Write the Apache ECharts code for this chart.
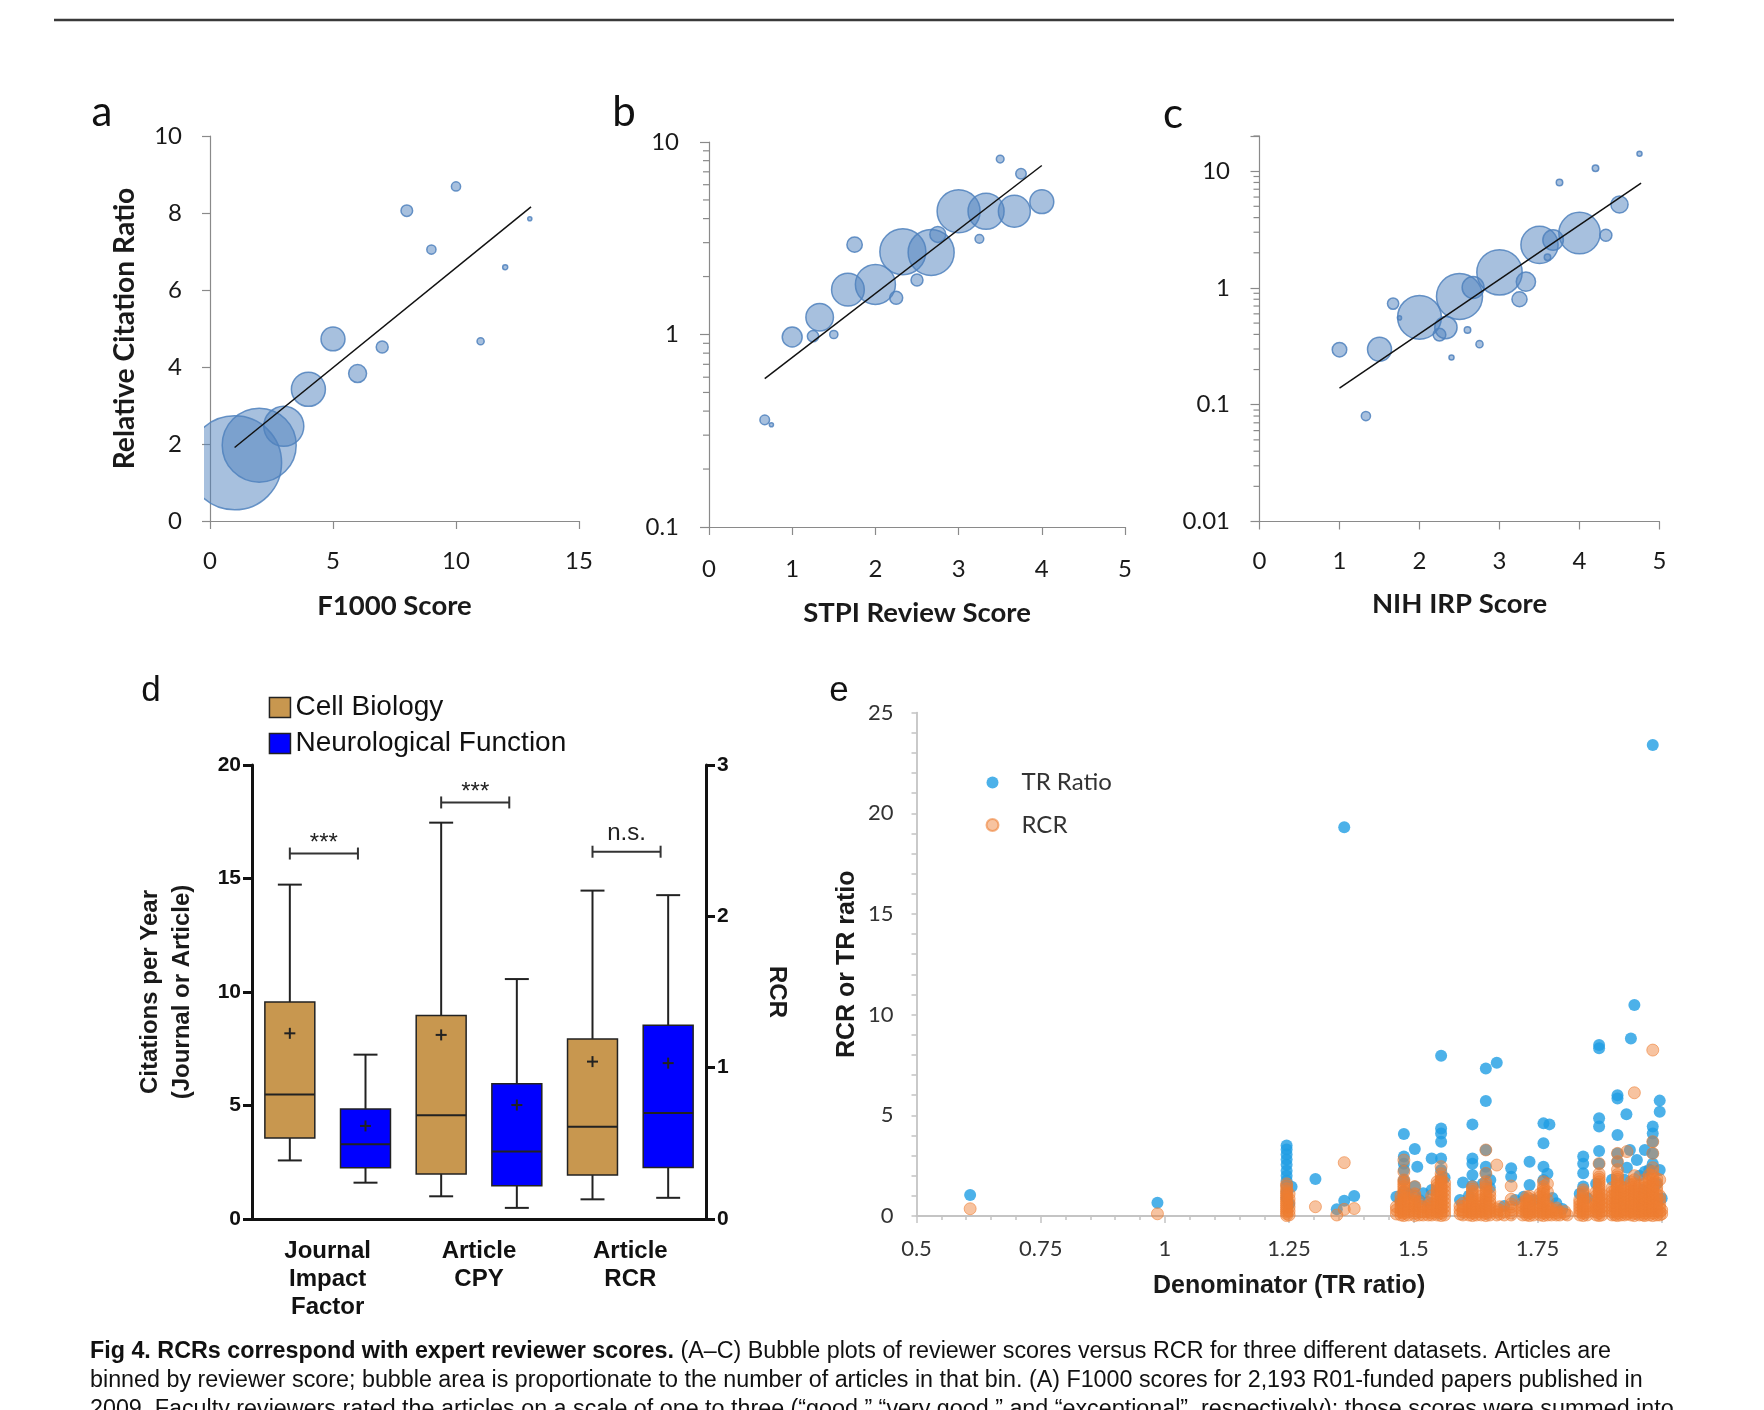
<!DOCTYPE html>
<html>
<head>
<meta charset="utf-8">
<title>Fig 4 - RCRs correspond with expert reviewer scores</title>
<script src="https://cdn.jsdelivr.net/npm/echarts@6/dist/echarts.min.js"></script>
<style>
  html, body { margin: 0; padding: 0; background: #fff; }
  #chart { width: 1764px; height: 1410px; }
</style>
</head>
<body>
<div id="chart"></div>
<script>
// ---------- data ----------
// (a) F1000 score bins: score, RCR, number of articles (bubble area)
const aScore = [1, 2, 3, 4, 5, 6, 7, 8, 9, 10, 11, 12, 13]
const aRcr = [1.51, 1.97, 2.46, 3.42, 4.73, 3.83, 4.52, 8.06, 7.05, 8.69, 4.67, 6.59, 7.85]
const aCount = [1047, 649, 190, 137, 68, 38, 17, 16, 10, 10, 6, 3, 2]
const aTrend = [[1, 1.91], [13.05, 8.16]]

// (b) STPI review score bins
const bScore = [0.67, 0.75, 1, 1.25, 1.33, 1.5, 1.67, 1.75, 2, 2.25, 2.33, 2.5, 2.67, 2.75, 3, 3.25, 3.33, 3.5, 3.67, 3.75, 4]
const bRcr = [0.36, 0.34, 0.97, 0.98, 1.23, 1.0, 1.71, 2.93, 1.82, 1.55, 2.69, 1.92, 2.67, 3.31, 4.37, 3.14, 4.37, 8.15, 4.37, 6.84, 4.9]
const bCount = [11, 2, 47, 15, 90, 8, 127, 28, 190, 20, 251, 17, 251, 30, 219, 9, 154, 7, 121, 13, 68]
const bTrend = [[0.67, 0.59], [4.0, 7.55]]
const bMinorTicks = [0.2, 0.3, 0.4, 0.5, 0.6, 0.7, 0.8, 0.9, 2, 3, 4, 5, 6, 7, 8, 9]

// (c) NIH IRP score bins
const cScore = [1, 1.33, 1.5, 1.67, 1.75, 2, 2.33, 2.25, 2.5, 2.67, 2.6, 2.4, 2.75, 3, 3.33, 3.25, 3.5, 3.6, 3.67, 3.75, 4, 4.2, 4.33, 4.5, 4.75]
const cRcr = [0.296, 0.080, 0.298, 0.734, 0.554, 0.56, 0.458, 0.398, 0.845, 1.01, 0.436, 0.254, 0.33, 1.36, 1.13, 0.8, 2.34, 1.83, 2.57, 8.01, 2.95, 10.6, 2.83, 5.18, 14.1]
const cCount = [25, 10, 68, 15, 2, 227, 59, 19, 251, 57, 5, 3, 6, 244, 44, 27, 164, 5, 50, 5, 203, 5, 17, 35, 3]
const cTrend = [[1.0, 0.139], [4.77, 7.9]]
const cMinorTicks = [0.02, 0.03, 0.04, 0.05, 0.06, 0.07, 0.08, 0.09, 0.2, 0.3, 0.4, 0.5, 0.6, 0.7, 0.8, 0.9, 2, 3, 4, 5, 6, 7, 8, 9, 20]

// (d) box plots: [low whisker, Q1, median, Q3, high whisker, mean]
const dCats = ['JIF-CB', 'JIF-NF', 'CPY-CB', 'CPY-NF', 'RCR-CB', 'RCR-NF']
const dGroups = ['Journal\nImpact\nFactor', 'Article\nCPY', 'Article\nRCR']
const cellJif = [2.58, 3.57, 5.49, 9.56, 14.73, 8.18]
const neuroJif = [1.6, 2.26, 3.29, 4.85, 7.24, 4.1]
const cellCpy = [1.0, 1.98, 4.57, 8.97, 17.46, 8.11]
const neuroCpy = [0.49, 1.47, 2.97, 5.96, 10.57, 5.02]
const cellRcr = [0.13, 0.29, 0.61, 1.19, 2.17, 1.04]
const neuroRcr = [0.14, 0.34, 0.70, 1.28, 2.14, 1.03]
const sigPairs = [[0, 1], [2, 3], [4, 5]]
const sigLevel = [16.1, 18.35, 16.18]
const sigText = ['***', '***', 'n.s.']

// (e) denominator (TR ratio) vs value
const trRatio = [
  [0.608, 1.04], [0.985, 0.66],
  [1.245, 3.5], [1.245, 3.3], [1.245, 3.05], [1.245, 2.8], [1.245, 2.55], [1.245, 2.25], [1.245, 2.0],
  [1.245, 1.75], [1.245, 1.5], [1.255, 1.45], [1.245, 1.2], [1.245, 0.9], [1.25, 0.6],
  [1.303, 1.84], [1.346, 0.33], [1.361, 0.76], [1.381, 0.99], [1.361, 19.31],
  [1.466, 0.96], [1.481, 4.07], [1.481, 2.95], [1.481, 2.6], [1.481, 2.28], [1.481, 1.79], [1.481, 1.2],
  [1.49, 1.1], [1.475, 0.7],
  [1.503, 3.33], [1.508, 2.45], [1.503, 1.46], [1.503, 1.0], [1.52, 1.13], [1.512, 0.8],
  [1.537, 2.86], [1.537, 1.29], [1.53, 0.7],
  [1.556, 7.96], [1.556, 4.35], [1.556, 4.1], [1.556, 3.69], [1.556, 2.86], [1.556, 2.28], [1.556, 1.8], [1.563, 1.9],
  [1.6, 1.66], [1.594, 0.8],
  [1.619, 4.55], [1.619, 2.86], [1.619, 2.6], [1.619, 2.04], [1.619, 1.5], [1.612, 1.0],
  [1.646, 7.33], [1.646, 5.71], [1.646, 3.28], [1.646, 2.45], [1.646, 2.12], [1.64, 1.6], [1.654, 1.4],
  [1.668, 7.61], [1.655, 1.79], [1.683, 0.5],
  [1.697, 2.37], [1.697, 1.95], [1.705, 0.8],
  [1.734, 2.7], [1.734, 1.54], [1.722, 0.96], [1.742, 0.8],
  [1.762, 4.6], [1.774, 4.55], [1.762, 3.61], [1.762, 2.45], [1.762, 1.79], [1.77, 2.1],
  [1.788, 0.63], [1.78, 0.9], [1.8, 0.35],
  [1.842, 2.95], [1.842, 2.6], [1.842, 2.12], [1.842, 1.46], [1.835, 1.1], [1.85, 0.9],
  [1.874, 8.49], [1.874, 8.33], [1.874, 4.85], [1.874, 4.44], [1.874, 3.23], [1.874, 2.6], [1.868, 1.6],
  [1.911, 6.0], [1.911, 5.84], [1.911, 4.02], [1.911, 3.11], [1.911, 2.7], [1.9, 1.8],
  [1.929, 5.05], [1.936, 3.28], [1.93, 2.4], [1.925, 1.8],
  [1.945, 10.48], [1.938, 8.82], [1.95, 2.78], [1.955, 2.0],
  [1.966, 3.28], [1.966, 2.2], [1.962, 1.3],
  [1.982, 23.39], [1.982, 4.44], [1.982, 4.1], [1.982, 3.69], [1.982, 3.11], [1.982, 2.6], [1.975, 2.3],
  [1.996, 5.73], [1.996, 5.18], [1.996, 2.28], [2.0, 0.88], [1.99, 1.6]
]
// RCR points, read column by column: [denominator, [values...]]
const rcrColumns = [
  [0.608, [0.36]], [0.985, [0.11]],
  [1.245, [0.02, 0.12, 0.22, 0.32, 0.42, 0.52, 0.62, 0.72, 0.82, 0.92, 1.02, 1.12, 1.22, 1.35, 1.5, 1.6]],
  [1.25, [0.05, 0.25, 0.45, 0.65, 0.85, 1.1]],
  [1.303, [0.46]], [1.346, [0.05]], [1.361, [0.33, 2.65]], [1.381, [0.37]],
  [1.466, [0.1, 0.3, 0.46]],
  [1.475, [0.05, 0.2, 0.35, 0.5, 0.65, 0.8, 1.0]],
  [1.481, [0.02, 0.14, 0.26, 0.38, 0.5, 0.62, 0.74, 0.86, 0.98, 1.1, 1.22, 1.34, 1.46, 1.58, 1.7, 1.79, 2.2, 2.78]],
  [1.49, [0.05, 0.2, 0.35, 0.5, 0.7, 0.9]],
  [1.503, [0.02, 0.14, 0.26, 0.38, 0.5, 0.62, 0.74, 0.86, 1.0, 1.1, 1.46]],
  [1.512, [0.05, 0.2, 0.35, 0.5, 0.7]],
  [1.52, [0.05, 0.2, 0.46]],
  [1.53, [0.05, 0.2, 0.35, 0.5]],
  [1.537, [0.05, 0.15, 0.3, 0.45, 0.6, 0.8, 1.0]],
  [1.548, [0.05, 0.2, 0.35, 0.5, 0.65, 0.8, 0.95, 1.1, 1.25, 1.4, 1.55, 1.7]],
  [1.556, [0.02, 0.14, 0.26, 0.38, 0.5, 0.62, 0.74, 0.86, 0.98, 1.1, 1.22, 1.34, 1.46, 1.58, 1.7, 1.82, 1.94, 2.1, 2.45]],
  [1.563, [0.05, 0.25, 0.45, 0.65, 0.85, 1.05, 1.25, 1.45, 1.65]],
  [1.594, [0.1, 0.3, 0.5]],
  [1.6, [0.05, 0.2, 0.3, 0.45, 0.63]],
  [1.612, [0.05, 0.2, 0.35, 0.5, 0.65, 0.8]],
  [1.619, [0.02, 0.14, 0.26, 0.38, 0.5, 0.62, 0.74, 0.86, 0.98, 1.1, 1.22, 1.34, 1.45]],
  [1.627, [0.05, 0.2, 0.35, 0.5]],
  [1.637, [0.05, 0.2, 0.35, 0.5, 0.65, 0.8, 1.0]],
  [1.646, [0.02, 0.14, 0.26, 0.38, 0.5, 0.62, 0.74, 0.86, 0.98, 1.1, 1.22, 1.34, 1.46, 1.58, 1.7, 2.12, 3.28]],
  [1.654, [0.05, 0.2, 0.35, 0.5, 0.65, 0.8, 1.0, 1.2]],
  [1.668, [0.05, 0.2, 0.35, 2.53]],
  [1.674, [0.1, 0.3, 0.46]],
  [1.683, [0.05, 0.2]],
  [1.697, [0.05, 0.15, 0.3, 0.45, 0.6, 0.83, 1.49]],
  [1.72, [0.05, 0.2, 0.35, 0.5, 0.65]],
  [1.728, [0.05, 0.2, 0.35, 0.5, 0.65, 0.8, 0.95]],
  [1.734, [0.02, 0.14, 0.26, 0.38, 0.5, 0.62, 0.74, 0.86, 0.98]],
  [1.742, [0.05, 0.2, 0.35, 0.5]],
  [1.755, [0.05, 0.2, 0.35, 0.5, 0.65, 0.8, 0.95, 1.1]],
  [1.762, [0.02, 0.14, 0.26, 0.38, 0.5, 0.62, 0.74, 0.86, 0.98, 1.1, 1.22, 1.34, 1.46, 1.7]],
  [1.77, [0.05, 0.2, 0.35, 0.5, 0.8, 1.2, 1.6]],
  [1.778, [0.05, 0.2, 0.35]],
  [1.788, [0.05, 0.15, 0.3, 0.4]],
  [1.795, [0.05, 0.2]],
  [1.805, [0.1, 0.22]],
  [1.81, [0.05]],
  [1.835, [0.05, 0.2, 0.35, 0.5, 0.65, 0.8]],
  [1.842, [0.02, 0.14, 0.26, 0.38, 0.5, 0.62, 0.74, 0.86, 0.98, 1.1, 1.2, 1.3]],
  [1.85, [0.05, 0.2, 0.35, 0.5, 0.65]],
  [1.868, [0.05, 0.2, 0.35, 0.5, 0.65, 0.8, 1.0, 1.2]],
  [1.874, [0.02, 0.14, 0.26, 0.38, 0.5, 0.62, 0.74, 0.86, 0.98, 1.1, 1.22, 1.34, 1.46, 1.58, 1.7, 1.82, 1.94, 2.1, 2.6]],
  [1.88, [0.05, 0.25, 0.45, 0.65, 0.85, 1.05]],
  [1.9, [0.05, 0.2, 0.35, 0.5, 0.65, 0.8, 1.0, 1.2, 1.4]],
  [1.906, [0.05, 0.25, 0.45, 0.65, 0.85, 1.05, 1.25]],
  [1.911, [0.02, 0.14, 0.26, 0.38, 0.5, 0.62, 0.74, 0.86, 0.98, 1.1, 1.22, 1.34, 1.46, 1.58, 1.7, 1.82, 1.94, 2.06, 2.3, 2.7, 3.11]],
  [1.918, [0.05, 0.25, 0.45, 0.65, 0.85, 1.05, 1.25, 1.45]],
  [1.925, [0.05, 0.2, 0.35, 0.5, 0.65, 0.8, 0.95, 1.1, 1.25, 1.4]],
  [1.93, [0.1, 0.3, 0.5, 3.2]],
  [1.938, [0.05, 0.2, 0.35, 0.5, 0.65, 0.8, 0.95, 1.1, 1.25, 1.4, 1.55, 1.7]],
  [1.945, [0.02, 0.14, 0.26, 0.38, 0.5, 0.62, 0.74, 0.86, 0.98, 1.1, 1.22, 1.34, 1.46, 1.6, 1.8, 2.0, 6.12]],
  [1.955, [0.05, 0.2, 0.35, 0.5, 0.65, 0.8, 0.95, 1.1, 1.25, 1.4, 1.5]],
  [1.962, [0.05, 0.25, 0.45, 0.65, 0.85]],
  [1.966, [0.02, 0.14, 0.26, 0.38, 0.5, 0.62, 0.74, 0.86, 0.98, 1.1, 1.22, 1.4, 1.6, 1.8]],
  [1.975, [0.05, 0.25, 0.45, 0.65, 0.85, 1.05, 1.25, 1.45, 1.65, 1.85, 2.05]],
  [1.982, [0.02, 0.14, 0.26, 0.38, 0.5, 0.62, 0.74, 0.86, 0.98, 1.1, 1.22, 1.34, 1.46, 1.6, 1.8, 2.0, 2.2, 2.4, 3.11, 3.69, 8.24]],
  [1.99, [0.05, 0.25, 0.45, 0.65, 0.85, 1.05, 1.25, 1.45, 1.65, 1.85]],
  [1.996, [0.05, 0.2, 0.4, 0.6, 0.8, 1.0, 1.8]],
  [2.0, [0.1, 0.3]]
]
const rcrE = rcrColumns.flatMap(([x, ys]) => ys.map(y => [x, y]))

// ---------- styles ----------
const FONT_CAL = "Lato, 'Open Sans', sans-serif"
const FONT_ARIAL = "'Liberation Sans', Arial, Helvetica, sans-serif"
const AXIS_GRAY = '#8a8a8a'
const E_GRAY = '#c4c4c4'
const BUBBLE_AREA = 2.11 // px^2 of bubble per article
const TAN = '#c8974f'
const BLUE = '#0000ff'
const DARK = '#222'

const chart = echarts.init(document.getElementById('chart'), null, { renderer: 'canvas' })

// bubble (area ~ count); the plot area reaches a few px left of the y axis
const renderBubble = (params, api) => {
  const p = api.coord([api.value(0), api.value(1)])
  const r = Math.sqrt(api.value(2) * BUBBLE_AREA)
  const cs = params.coordSys
  return {
    type: 'group',
    clipPath: { type: 'rect', shape: { x: cs.x - 6, y: cs.y - 40, width: cs.width + 46, height: cs.height + 40 } },
    children: [{
      type: 'circle',
      shape: { cx: p[0], cy: p[1], r },
      style: { fill: 'rgba(79,129,189,0.5)', stroke: 'rgba(79,129,189,0.85)', lineWidth: 1.5 }
    }]
  }
}

// short minor tick on the left of a log axis
const renderMinorTick = (params, api) => {
  const p = api.coord([0, api.value(1)])
  return {
    type: 'line',
    shape: { x1: p[0] - 6, y1: p[1], x2: p[0], y2: p[1] },
    style: { stroke: AXIS_GRAY, lineWidth: 1.2 }
  }
}

const renderBox = (params, api) => {
  const cat = api.value(0)
  const band = api.size([1, 0])[0]
  const bw = band * 0.66
  const cw = bw * 0.48
  const pt = i => api.coord([cat, api.value(i)])
  const x = pt(3)[0]
  const [yLow, yQ1, yMed, yQ3, yHigh, yMean] = [1, 2, 3, 4, 5, 6].map(i => pt(i)[1])
  const seg = (x1, y1, x2, y2, w) => ({ type: 'line', shape: { x1, y1, x2, y2 }, style: { stroke: DARK, lineWidth: w } })
  return {
    type: 'group',
    children: [
      seg(x, yHigh, x, yQ3, 2),
      seg(x, yQ1, x, yLow, 2),
      seg(x - cw / 2, yHigh, x + cw / 2, yHigh, 2),
      seg(x - cw / 2, yLow, x + cw / 2, yLow, 2),
      {
        type: 'rect',
        shape: { x: x - bw / 2, y: yQ3, width: bw, height: yQ1 - yQ3 },
        style: { fill: api.visual('color'), stroke: DARK, lineWidth: 1.5 }
      },
      seg(x - bw / 2, yMed, x + bw / 2, yMed, 2),
      seg(x - 5.5, yMean, x + 5.5, yMean, 2),
      seg(x, yMean - 5.5, x, yMean + 5.5, 2)
    ]
  }
}

const renderBracket = (params, api) => {
  const p = api.coord([api.value(0), api.value(2)])
  const band = api.size([1, 0])[0]
  const x1 = p[0]
  const x2 = p[0] + band * 0.9
  const y = p[1]
  const txt = sigText[params.dataIndex]
  const seg = (a, b, c, d) => ({ type: 'line', shape: { x1: a, y1: b, x2: c, y2: d }, style: { stroke: '#333', lineWidth: 2 } })
  return {
    type: 'group',
    children: [
      seg(x1, y, x2, y),
      seg(x1, y - 6, x1, y + 6),
      seg(x2, y - 6, x2, y + 6),
      {
        type: 'text',
        style: {
          text: txt, x: (x1 + x2) / 2, y: y - (txt === 'n.s.' ? 18 : 10),
          align: 'center', verticalAlign: 'middle',
          fontFamily: FONT_ARIAL, fontSize: 24, fill: '#222'
        }
      }
    ]
  }
}

// axes for the three bubble panels
const scoreAxis = (gridIndex, max, interval, name, nameGap, margin) => ({
  gridIndex, type: 'value', min: 0, max, interval,
  name, nameLocation: 'middle', nameGap,
  nameTextStyle: { fontFamily: FONT_CAL, fontWeight: 'bold', fontSize: 27.5, color: '#1a1a1a' },
  axisLine: { onZero: false, lineStyle: { color: AXIS_GRAY, width: 1.2 } },
  axisTick: { length: 8, lineStyle: { color: AXIS_GRAY, width: 1.2 } },
  axisLabel: { margin, fontFamily: FONT_CAL, fontSize: 24, color: '#1a1a1a' },
  splitLine: { show: false }
})

const decadeLabel = v => {
  const lg = Math.log10(v)
  if (Math.abs(lg - Math.round(lg)) > 1e-6) return ''
  return String(+Number(v).toPrecision(6))
}

const logAxis = (gridIndex, min, max, margin) => ({
  gridIndex, type: 'log', logBase: 10, min, max,
  axisLine: { show: true, onZero: false, lineStyle: { color: AXIS_GRAY, width: 1.2 } },
  axisTick: { show: true, length: 9, lineStyle: { color: AXIS_GRAY, width: 1.2 } },
  axisLabel: { margin, fontFamily: FONT_CAL, fontSize: 24, color: '#1a1a1a', formatter: decadeLabel },
  splitLine: { show: false }
})

const dYAxis = (position, max, interval, name, nameGap, extra) => Object.assign({
  gridIndex: 3, type: 'value', position, min: 0, max, interval,
  name, nameLocation: 'middle', nameGap,
  nameTextStyle: { fontFamily: FONT_ARIAL, fontWeight: 'bold', fontSize: 24, color: '#1a1a1a', lineHeight: 31.5 },
  axisLine: { show: true, onZero: false, lineStyle: { color: '#111', width: 3 } },
  axisTick: { show: true, length: 9, lineStyle: { color: '#111', width: 3 } },
  axisLabel: { margin: 11, fontFamily: FONT_ARIAL, fontWeight: 'bold', fontSize: 21, color: '#111' },
  splitLine: { show: false }
}, extra || {})

const option = {
  animation: false,
  backgroundColor: '#fff',
  textStyle: { fontFamily: FONT_ARIAL },
  grid: [
    { left: 210, top: 136, width: 369, height: 385, outerBoundsMode: 'none' },
    { left: 709, top: 142, width: 416, height: 385, outerBoundsMode: 'none' },
    { left: 1259.5, top: 136, width: 400, height: 385.5, outerBoundsMode: 'none' },
    { left: 252, top: 765, width: 454, height: 454, outerBoundsMode: 'none' },
    { left: 916.5, top: 712.6, width: 745.2, height: 503.4, outerBoundsMode: 'none' }
  ],
  xAxis: [
    scoreAxis(0, 15, 5, 'F1000 Score', 71, 28),
    scoreAxis(1, 5, 1, 'STPI Review Score', 72, 30),
    scoreAxis(2, 5, 1, 'NIH IRP Score', 69, 28),
    {
      gridIndex: 3, type: 'category', data: dCats, position: 'bottom',
      axisLine: { onZero: false, lineStyle: { color: '#111', width: 3 } },
      axisTick: { alignWithLabel: true, length: 9, lineStyle: { color: '#111', width: 3 } },
      axisLabel: { show: false }
    },
    {
      gridIndex: 3, type: 'category', data: dGroups, position: 'bottom',
      axisLine: { show: false }, axisTick: { show: false },
      axisLabel: {
        margin: 18, interval: 0, fontFamily: FONT_ARIAL, fontWeight: 'bold',
        fontSize: 24, lineHeight: 28, color: '#111'
      }
    },
    {
      gridIndex: 4, type: 'value', min: 0.5, max: 2, interval: 0.25,
      name: 'Denominator (TR ratio)', nameLocation: 'middle', nameGap: 58,
      nameTextStyle: { fontFamily: FONT_ARIAL, fontWeight: 'bold', fontSize: 25, color: '#1a1a1a' },
      axisLine: { onZero: false, lineStyle: { color: E_GRAY, width: 1.8 } },
      axisTick: { length: 7, lineStyle: { color: E_GRAY, width: 1.5 } },
      minorTick: { show: true, splitNumber: 5, length: 4, lineStyle: { color: E_GRAY, width: 1.5 } },
      axisLabel: { margin: 22, fontFamily: FONT_CAL, fontSize: 22, color: '#333' },
      splitLine: { show: false }
    }
  ],
  yAxis: [
    Object.assign(scoreAxis(0, 10, 2, 'Relative Citation Ratio', 71, 28), {
      nameTextStyle: { fontFamily: FONT_CAL, fontWeight: 'bold', fontSize: 28.2, color: '#1a1a1a' }
    }),
    logAxis(1, 0.1, 10, 30),
    logAxis(2, 0.01, 20, 29.5),
    dYAxis('left', 20, 5, 'Citations per Year\n(Journal or Article)', 54),
    dYAxis('right', 3, 1, 'RCR', 54.5, { nameRotate: -90 }),
    {
      gridIndex: 4, type: 'value', min: 0, max: 25, interval: 5,
      name: 'RCR or TR ratio', nameLocation: 'middle', nameGap: 57,
      nameTextStyle: { fontFamily: FONT_ARIAL, fontWeight: 'bold', fontSize: 25, color: '#1a1a1a' },
      axisLine: { show: true, onZero: false, lineStyle: { color: E_GRAY, width: 1.8 } },
      axisTick: { show: true, length: 5, lineStyle: { color: E_GRAY, width: 1.5 } },
      minorTick: { show: true, splitNumber: 5, length: 5, lineStyle: { color: E_GRAY, width: 1.5 } },
      axisLabel: { margin: 23, fontFamily: FONT_CAL, fontSize: 22, color: '#333' },
      splitLine: { show: false }
    }
  ],
  legend: [
    {
      orient: 'vertical', left: 268.7, top: 693.4, padding: 0,
      itemWidth: 21, itemHeight: 20, itemGap: 8, icon: 'rect',
      textStyle: { fontFamily: FONT_ARIAL, fontSize: 28, color: '#111' },
      data: [
        { name: 'Cell Biology', itemStyle: { color: TAN, borderColor: DARK, borderWidth: 1.5 } },
        { name: 'Neurological Function', itemStyle: { color: BLUE, borderColor: DARK, borderWidth: 1.5 } }
      ]
    },
    {
      orient: 'vertical', left: 985.5, top: 770.5, padding: 0,
      itemWidth: 48, itemHeight: 12, itemGap: 18.5, icon: 'circle',
      textStyle: { fontFamily: FONT_CAL, fontSize: 24, color: '#333' },
      data: ['TR Ratio', 'RCR']
    }
  ],
  series: [
    // (a)
    {
      type: 'custom', name: 'F1000 bins', xAxisIndex: 0, yAxisIndex: 0, clip: false, z: 2,
      renderItem: renderBubble, encode: { x: 0, y: 1 },
      data: aScore.map((s, i) => [s, aRcr[i], aCount[i]])
    },
    {
      type: 'line', name: 'F1000 trend', xAxisIndex: 0, yAxisIndex: 0, z: 3,
      showSymbol: false, symbol: 'none', lineStyle: { color: '#111', width: 1.5 }, data: aTrend
    },
    // (b)
    {
      type: 'custom', name: 'STPI bins', xAxisIndex: 1, yAxisIndex: 1, z: 2,
      renderItem: renderBubble, encode: { x: 0, y: 1 },
      data: bScore.map((s, i) => [s, bRcr[i], bCount[i]])
    },
    {
      type: 'line', name: 'STPI trend', xAxisIndex: 1, yAxisIndex: 1, z: 3,
      showSymbol: false, symbol: 'none', lineStyle: { color: '#111', width: 1.5 }, data: bTrend
    },
    {
      type: 'custom', name: 'STPI minor ticks', xAxisIndex: 1, yAxisIndex: 1, silent: true,
      renderItem: renderMinorTick, encode: { x: 0, y: 1 },
      data: bMinorTicks.map(v => [0, v])
    },
    // (c)
    {
      type: 'custom', name: 'IRP bins', xAxisIndex: 2, yAxisIndex: 2, z: 2,
      renderItem: renderBubble, encode: { x: 0, y: 1 },
      data: cScore.map((s, i) => [s, cRcr[i], cCount[i]])
    },
    {
      type: 'line', name: 'IRP trend', xAxisIndex: 2, yAxisIndex: 2, z: 3,
      showSymbol: false, symbol: 'none', lineStyle: { color: '#111', width: 1.5 }, data: cTrend
    },
    {
      type: 'custom', name: 'IRP minor ticks', xAxisIndex: 2, yAxisIndex: 2, silent: true,
      renderItem: renderMinorTick, encode: { x: 0, y: 1 },
      data: cMinorTicks.map(v => [0, v])
    },
    // (d)
    {
      type: 'custom', name: 'Cell Biology', xAxisIndex: 3, yAxisIndex: 3, itemStyle: { color: TAN },
      renderItem: renderBox, encode: { x: 0, y: [1, 2, 3, 4, 5, 6] },
      data: [[0, ...cellJif], [2, ...cellCpy]]
    },
    {
      type: 'custom', name: 'Neurological Function', xAxisIndex: 3, yAxisIndex: 3, itemStyle: { color: BLUE },
      renderItem: renderBox, encode: { x: 0, y: [1, 2, 3, 4, 5, 6] },
      data: [[1, ...neuroJif], [3, ...neuroCpy]]
    },
    {
      type: 'custom', name: 'Cell Biology', xAxisIndex: 3, yAxisIndex: 4, itemStyle: { color: TAN },
      renderItem: renderBox, encode: { x: 0, y: [1, 2, 3, 4, 5, 6] },
      data: [[4, ...cellRcr]]
    },
    {
      type: 'custom', name: 'Neurological Function', xAxisIndex: 3, yAxisIndex: 4, itemStyle: { color: BLUE },
      renderItem: renderBox, encode: { x: 0, y: [1, 2, 3, 4, 5, 6] },
      data: [[5, ...neuroRcr]]
    },
    {
      type: 'custom', name: 'significance', xAxisIndex: 3, yAxisIndex: 3, silent: true,
      renderItem: renderBracket, encode: { x: [0, 1], y: 2 },
      data: sigPairs.map((p, i) => [p[0], p[1], sigLevel[i]])
    },
    // (e)
    {
      type: 'scatter', name: 'TR Ratio', xAxisIndex: 5, yAxisIndex: 5,
      symbolSize: 12, itemStyle: { color: '#1f9ee3' }, data: trRatio
    },
    {
      type: 'scatter', name: 'RCR', xAxisIndex: 5, yAxisIndex: 5,
      symbolSize: 12,
      itemStyle: { color: 'rgba(237,125,49,0.58)', borderColor: 'rgba(237,125,49,0.72)', borderWidth: 1 },
      data: rcrE
    }
  ],
  graphic: [
    { type: 'line', shape: { x1: 54, y1: 20, x2: 1674, y2: 20 }, style: { stroke: '#3a3a3a', lineWidth: 2.5 } },
    { type: 'text', x: 102, y: 112, style: { text: 'a', fontFamily: FONT_CAL, fontSize: 42, fill: '#111', align: 'center', verticalAlign: 'middle' } },
    { type: 'text', x: 624, y: 112, style: { text: 'b', fontFamily: FONT_CAL, fontSize: 42, fill: '#111', align: 'center', verticalAlign: 'middle' } },
    { type: 'text', x: 1173, y: 114, style: { text: 'c', fontFamily: FONT_CAL, fontSize: 42, fill: '#111', align: 'center', verticalAlign: 'middle' } },
    { type: 'text', x: 151, y: 691, style: { text: 'd', fontFamily: FONT_ARIAL, fontSize: 35, fill: '#111', align: 'center', verticalAlign: 'middle' } },
    { type: 'text', x: 839, y: 691, style: { text: 'e', fontFamily: FONT_ARIAL, fontSize: 35, fill: '#111', align: 'center', verticalAlign: 'middle' } },
    {
      type: 'text', x: 90, y: 1337.5,
      style: {
        text: '{b|Fig 4. RCRs correspond with expert reviewer scores.} (A–C) Bubble plots of reviewer scores versus RCR for three different datasets. Articles are\n' +
          'binned by reviewer score; bubble area is proportionate to the number of articles in that bin. (A) F1000 scores for 2,193 R01-funded papers published in\n' +
          '2009. Faculty reviewers rated the articles on a scale of one to three (“good,” “very good,” and “exceptional”, respectively); those scores were summed into',
        fontFamily: FONT_ARIAL, fontSize: 23.3, lineHeight: 29, fill: '#111', verticalAlign: 'top',
        rich: { b: { fontFamily: FONT_ARIAL, fontWeight: 'bold', fontSize: 23.3, lineHeight: 29, fill: '#111' } }
      }
    }
  ]
}

chart.setOption(option)
</script>
</body>
</html>
